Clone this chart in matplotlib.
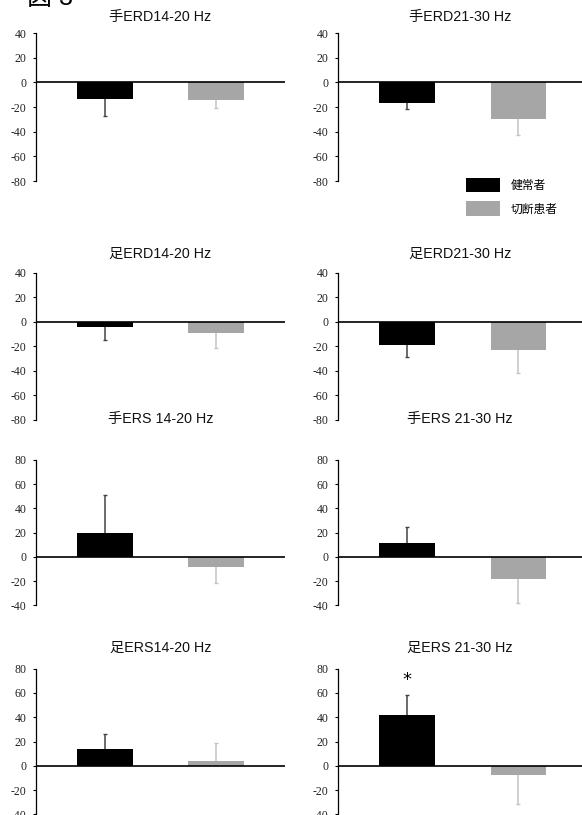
import matplotlib
matplotlib.use("Agg")
import matplotlib.pyplot as plt
from matplotlib.patches import Patch
import numpy as np

# ---------------- data ----------------
titles = ['手ERD14-20 Hz', '手ERD21-30 Hz',
          '足ERD14-20 Hz', '足ERD21-30 Hz',
          '手ERS 14-20 Hz', '手ERS 21-30 Hz',
          '足ERS14-20 Hz', '足ERS 21-30 Hz']
groups = ['健常者', '切断患者']
healthy_means = [-13.6, -16.8, -4.6, -18.9, 19.5, 11.3, 14.2, 41.7]
healthy_err = [14.0, 4.6, 10.2, 10.0, 31.9, 13.2, 12.1, 17.0]
amputee_means = [-14.4, -29.8, -9.5, -23.2, -8.0, -18.2, 3.9, -7.2]
amputee_err = [6.5, 13.2, 11.8, 18.7, 13.2, 20.0, 14.8, 24.3]
erd_ticks = [40, 20, 0, -20, -40, -60, -80]
ers_ticks = [80, 60, 40, 20, 0, -20, -40]
star_value = 71  # significance marker position (足ERS 21-30 Hz, 健常者)

bar_colors = ['#000000', '#a6a6a6']
err_colors = ['#444444', '#c4c4c4']

# ---------------- layout ----------------
W, H = 582, 815
fig = plt.figure(figsize=(W / 100, H / 100), dpi=100)

title_fonts = ['Liberation Sans', 'Noto Sans CJK JP']
tick_font = 'Liberation Serif'

col_x = [(36, 285), (338, 582)]
row_y = [(33, 181), (272.7, 420), (460, 605.3), (668.7, 814.3)]
title_y = [17, 254, 419, 648]
col_xlim = [(-0.62, 1.62), (-0.62, 1.57)]


def px_axes(x0, x1, y0, y1):
    return fig.add_axes([x0 / W, 1 - y1 / H, (x1 - x0) / W, (y1 - y0) / H])


axes = []
for i in range(8):
    r, c = divmod(i, 2)
    x0, x1 = col_x[c]
    y0, y1 = row_y[r]
    ax = px_axes(x0, x1, y0, y1)
    axes.append(ax)
    ticks = erd_ticks if r < 2 else ers_ticks
    means = [healthy_means[i], amputee_means[i]]
    errs = [healthy_err[i], amputee_err[i]]
    xs = np.arange(2)
    ax.bar(xs, means, width=0.5, color=bar_colors, zorder=3)
    for k in range(2):
        sign = -1 if means[k] < 0 else 1
        lo = errs[k] if sign < 0 else 0
        hi = errs[k] if sign > 0 else 0
        ax.errorbar(xs[k], means[k], yerr=[[lo], [hi]], fmt='none',
                    ecolor=err_colors[k], elinewidth=1.1, capsize=0,
                    zorder=2)
        ax.plot([xs[k]], [means[k] + sign * errs[k]], marker='_',
                markersize=2.5, markeredgewidth=1.0, color=err_colors[k],
                zorder=2)
    ax.axhline(0, color='black', lw=1.2, zorder=4)
    ax.set_ylim(min(ticks), max(ticks))
    ax.set_xlim(*col_xlim[c])
    ax.set_yticks(ticks)
    ax.set_yticklabels([str(t) for t in ticks], fontfamily=tick_font,
                       fontsize=8.5, color='#222222')
    ax.set_xticks([])
    for s in ['top', 'right', 'bottom']:
        ax.spines[s].set_visible(False)
    ax.spines['left'].set_linewidth(0.9)
    ax.tick_params(axis='y', length=2.5, width=0.8, pad=4.5)
    ax.patch.set_alpha(0)
    fig.text(((x0 + x1) / 2) / W, 1 - title_y[r] / H, titles[i],
             ha='center', va='center', fontsize=10.3, family=title_fonts,
             color='#111111')

# significance star
axes[7].text(0, star_value, '*', ha='center', va='center', fontsize=13,
             family='DejaVu Sans')

# legend
handles = [Patch(facecolor=bar_colors[k], edgecolor='none') for k in range(2)]
leg = fig.legend(handles, groups, loc='upper left',
                 bbox_to_anchor=(466 / W, 1 - 178 / H),
                 bbox_transform=fig.transFigure, frameon=False,
                 borderpad=0, borderaxespad=0, handlelength=2.9,
                 handleheight=1.5, handletextpad=0.85, labelspacing=0.75,
                 prop={'family': title_fonts, 'size': 8.5})

# figure label (cut at top)
fig.text(27 / W, 1 - 5 / H, '図 3', ha='left', va='baseline', fontsize=18,
         family=title_fonts)

fig.savefig('out.png', dpi=100)
